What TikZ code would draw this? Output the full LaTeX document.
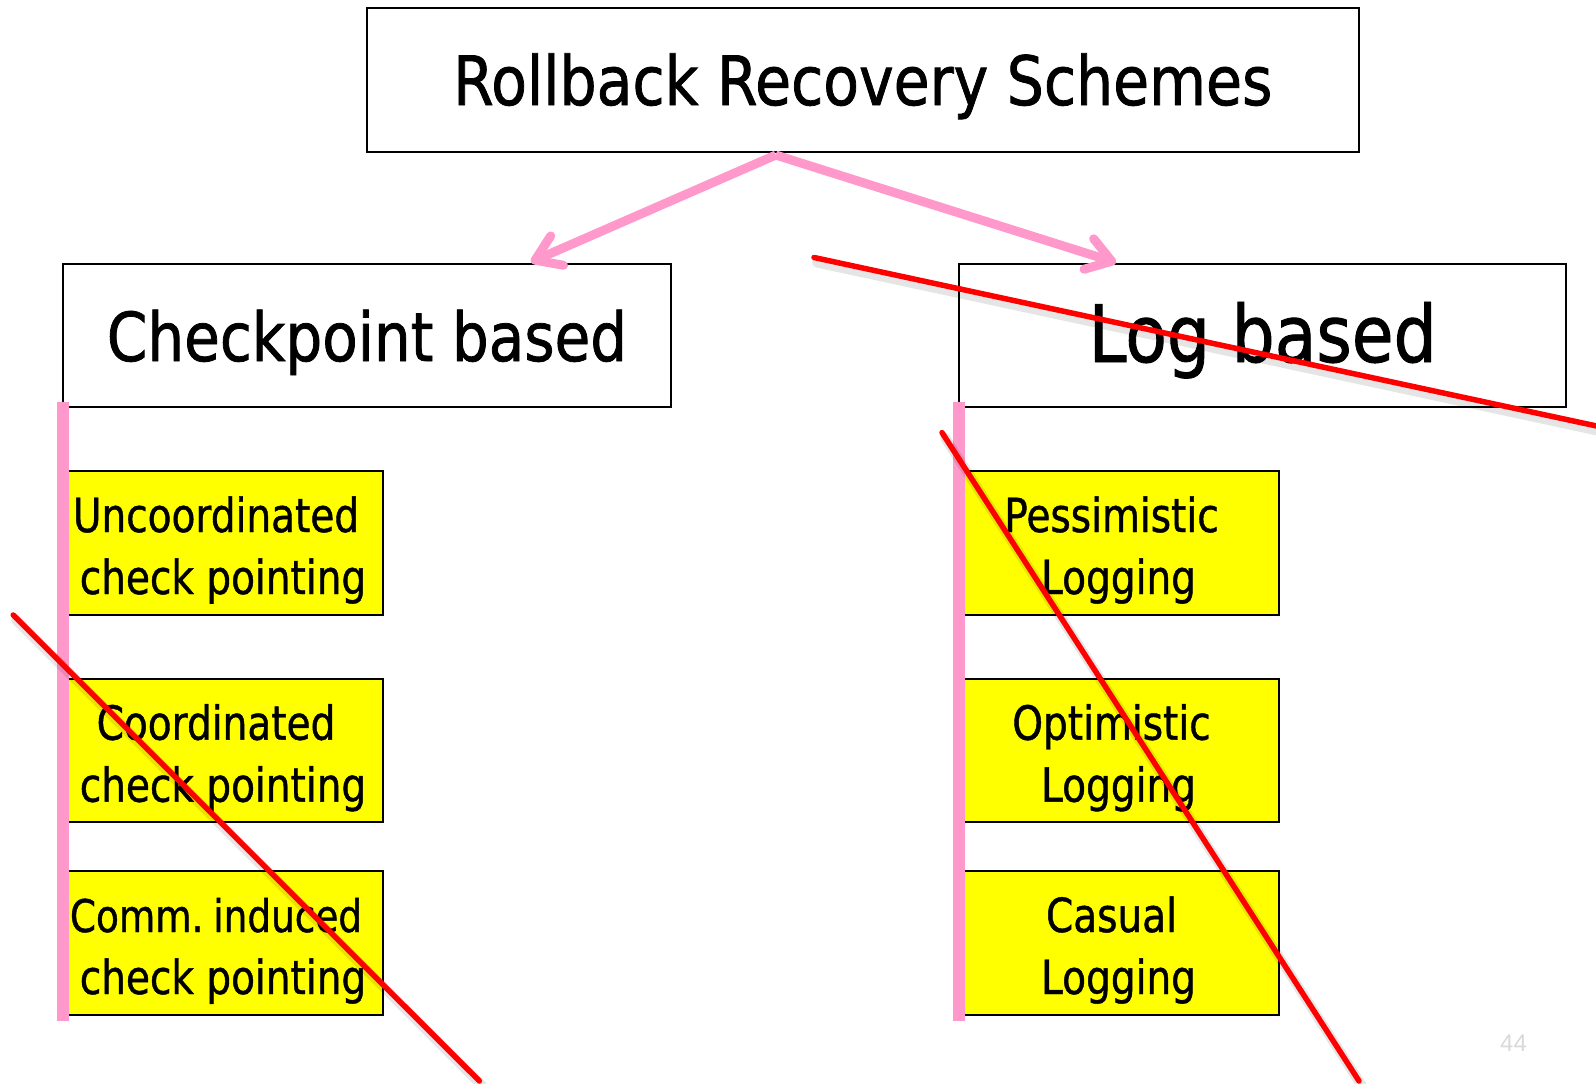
\documentclass[tikz,border=0pt]{standalone}
\usepackage{fontspec}
\setmainfont{DejaVu Sans}[FakeStretch=0.83,FakeBold=0.9]
\newfontfamily\widefont{DejaVu Sans}[FakeStretch=0.86,FakeBold=1.1]
\newfontfamily\numfont{Liberation Sans}
\usetikzlibrary{arrows.meta,calc}
\definecolor{stickyyellow}{HTML}{FFFF00}
\definecolor{branchpink}{HTML}{FF99CC}
\definecolor{strikered}{HTML}{FF0000}
\definecolor{pagegray}{HTML}{D9D9D9}

\begin{document}
\begin{tikzpicture}[x=1pt,y=-1pt,
  frame/.style={draw=black,line width=2pt,inner sep=0pt,outer sep=0pt,fill=white},
  leaf/.style={draw=black,line width=2pt,fill=stickyyellow,inner sep=0pt,outer sep=0pt,
               minimum width=315pt,minimum height=143.5pt},
  headtext/.style={inner sep=0pt,anchor=base},
  leaftext/.style={inner sep=0pt,anchor=base,font=\fontsize{47}{60}\selectfont},
  branch/.style={draw=branchpink,line width=9pt,
                 -{Straight Barb[length=24pt,width=32pt,round]}},
  rail/.style={draw=branchpink,line width=12pt},
  strike/.style={draw=strikered,line width=5.5pt,line cap=round},
  strikeshade/.style={draw=black,opacity=0.1,line width=10pt,line cap=round},
]
\useasboundingbox (0,0) rectangle (1596,1084);

% root and the two families
\node[frame,minimum width=992.5pt,minimum height=143.7pt] (rrs) at (862.8,79.9) {};
\node[headtext,font=\widefont\fontsize{68}{80}\selectfont] (rrsT) at ($(rrs.center)+(0,25.1)$) {Rollback Recovery Schemes};

\node[frame,minimum width=608pt,minimum height=143pt] (cb) at (367,335.5) {};
\node[headtext,font=\widefont\fontsize{67.5}{80}\selectfont] (cbT) at ($(cb.center)+(0,25.5)$) {Checkpoint based};

\node[frame,minimum width=607.5pt,minimum height=143pt] (lb) at (1262.7,335.5) {};
\node[headtext,font=\widefont\fontsize{79}{90}\selectfont] (lbT) at ($(lb.center)+(0,26.5)$) {Log based};

% checkpoint based schemes
\node[leaf] (unc) at (225.5,543) {};
\node[leaftext] (uncA) at ($(unc.center)+(-9.5,-11)$) {Uncoordinated};
\node[leaftext] (uncB) at ($(unc.center)+(-2.5,51)$) {check pointing};

\node[leaf] (coo) at (225.5,750.7) {};
\node[leaftext] (cooA) at ($(coo.center)+(-9.5,-11)$) {Coordinated};
\node[leaftext] (cooB) at ($(coo.center)+(-2.5,51)$) {check pointing};

\node[leaf] (cic) at (225.5,943) {};
\node[leaftext,font=\fontsize{45}{60}\selectfont] (cicA) at ($(cic.center)+(-9.5,-11)$) {Comm.\hspace{-6pt} induced};
\node[leaftext] (cicB) at ($(cic.center)+(-2.5,51)$) {check pointing};

% log based schemes
\node[leaf] (pes) at (1121,543) {};
\node[leaftext] (pesA) at ($(pes.center)+(-9.5,-11)$) {Pessimistic};
\node[leaftext] (pesB) at ($(pes.center)+(-2.5,51)$) {Logging};

\node[leaf] (opt) at (1121,750.7) {};
\node[leaftext] (optA) at ($(opt.center)+(-9.5,-11)$) {Optimistic};
\node[leaftext] (optB) at ($(opt.center)+(-2.5,51)$) {Logging};

\node[leaf] (cas) at (1121,943) {};
\node[leaftext] (casA) at ($(cas.center)+(-9.5,-11)$) {Casual};
\node[leaftext] (casB) at ($(cas.center)+(-2.5,51)$) {Logging};

% vertical rails under each family
\draw[rail] ($(cb.south west)+(0,-5)$) -- ++(0,619);
\draw[rail] ($(lb.south west)+(0,-5)$) -- ++(0,619);

% branching arrows
\coordinate (fork) at ($(rrs.south)+(-87,3.3)$);
\draw[branch] (fork) -- ($(cb.north)+(164,-2)$);
\draw[branch] (fork) -- ($(lb.north)+(-146.7,-1.4)$);

% strike-through marks
\foreach \a/\b in {{(814,257.5)}/{(1598,426.3)},{(13.2,615)}/{(479.4,1081)},{(942,432.6)}/{(1359,1081)}}{
  \draw[strikeshade,shift={(3,5)}] \a -- \b;
}
\draw[strike] (814,257.5) -- (1598,426.3);
\draw[strike] (13.2,615) -- (479.4,1081);
\draw[strike] (942,432.6) -- (1359,1081);

% page number
\node[inner sep=0pt,text=pagegray,font=\numfont\fontsize{24}{24}\selectfont] (pg) at (1513.5,1043) {44};
\end{tikzpicture}
\end{document}
